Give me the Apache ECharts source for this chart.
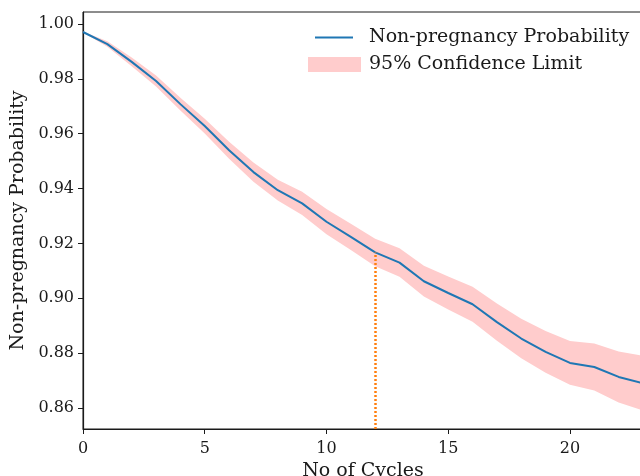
<!DOCTYPE html>
<html>
<head>
<meta charset="utf-8">
<script src="https://cdn.jsdelivr.net/npm/echarts@6/dist/echarts.min.js"></script>
<style>
  html, body { margin: 0; padding: 0; background: #fff; }
  #chart { width: 640px; height: 476px; }
</style>
</head>
<body>
<div id="chart"></div>
<script>
// cycles 0..23
const cycles = ["0", "1", "2", "3", "4", "5", "6", "7", "8", "9", "10", "11",
  "12", "13", "14", "15", "16", "17", "18", "19", "20", "21", "22", "23"];
const probability = [0.9971, 0.9927, 0.9862, 0.9792, 0.9708, 0.9628, 0.9540, 0.9460, 0.9394, 0.9346,
  0.9279, 0.9224, 0.9167, 0.9130, 0.9062, 0.9019, 0.8978, 0.8913, 0.8853, 0.8804,
  0.8764, 0.8749, 0.8713, 0.8690];
const lowerLimit = [0.9969, 0.9917, 0.9846, 0.9772, 0.9685, 0.9601, 0.9509, 0.9425, 0.9356, 0.9304,
  0.9233, 0.9176, 0.9117, 0.9078, 0.9006, 0.8959, 0.8914, 0.8845, 0.8781, 0.8728,
  0.8684, 0.8663, 0.8620, 0.8590];
const upperLimit = [0.9973, 0.9937, 0.9878, 0.9812, 0.9731, 0.9655, 0.9571, 0.9495, 0.9432, 0.9388,
  0.9325, 0.9272, 0.9217, 0.9182, 0.9118, 0.9079, 0.9042, 0.8981, 0.8925, 0.8880,
  0.8844, 0.8835, 0.8806, 0.8790];
const cutoffCycle = "12";
const xTickEvery = 5;
const yTicks = [0.86, 0.88, 0.90, 0.92, 0.94, 0.96, 0.98, 1.00];

const yMin = 0.8523, yMax = 1.0044;
const font = "DejaVu Serif";
const ink = "#1a1a1a";
const bandColor = "#ffcccc";
const lineColor = "#1f77b4";

var myChart = echarts.init(document.getElementById("chart"));

let options = {
  animation: false,
  grid: {
    left: 83, top: 12, right: -3, bottom: 47,
    outerBoundsMode: "none",
    containLabel: false,
    show: true, borderColor: ink, borderWidth: 1, backgroundColor: "transparent"
  },
  legend: [
    {
      left: 315, top: 28, padding: 0,
      itemWidth: 38, itemHeight: 2,
      data: [{ name: "Non-pregnancy Probability", icon: "rect", itemStyle: { color: lineColor, opacity: 1 } }],
      textStyle: { fontFamily: font, fontSize: 19, color: ink, lineHeight: 19, padding: [0, 0, 0, 11] }
    },
    {
      left: 308, top: 55, padding: 0,
      itemWidth: 53, itemHeight: 15,
      data: [{ name: "95% Confidence Limit", icon: "rect", itemStyle: { color: bandColor, opacity: 1, borderWidth: 0 } }],
      textStyle: { fontFamily: font, fontSize: 19, color: ink, lineHeight: 19, padding: [0, 0, 0, 3] }
    }
  ],
  xAxis: {
    type: "category", data: cycles, boundaryGap: false,
    name: "No of Cycles", nameLocation: "middle", nameGap: 28,
    nameTextStyle: { fontFamily: font, fontSize: 19, color: ink },
    axisLine: { lineStyle: { color: ink, width: 1.2 } },
    axisTick: { show: true, length: 5, lineStyle: { color: ink }, interval: xTickEvery - 1 },
    axisLabel: { fontFamily: font, fontSize: 16, color: ink, margin: 12, interval: xTickEvery - 1 },
    splitLine: { show: false }
  },
  yAxis: {
    type: "value", min: yMin, max: yMax,
    name: "Non-pregnancy Probability", nameLocation: "middle", nameGap: 49,
    nameTextStyle: { fontFamily: font, fontSize: 19, color: ink },
    axisLine: { show: true, lineStyle: { color: ink, width: 1.2 } },
    axisTick: { show: true, length: 5, lineStyle: { color: ink }, customValues: yTicks },
    axisLabel: {
      fontFamily: font, fontSize: 16, color: ink, margin: 9, customValues: yTicks,
      formatter: function (v) { return v.toFixed(2); }
    },
    splitLine: { show: false }
  },
  series: [
    {
      name: "lower",
      type: "line",
      stack: "ci",
      symbol: "none",
      silent: true,
      lineStyle: { width: 0 },
      data: lowerLimit,
      z: 1
    },
    {
      name: "95% Confidence Limit",
      type: "line",
      stack: "ci",
      symbol: "none",
      silent: true,
      color: bandColor,
      lineStyle: { width: 0 },
      areaStyle: { color: bandColor, opacity: 1 },
      data: upperLimit.map(function (u, i) { return +(u - lowerLimit[i]).toFixed(4); }),
      z: 1
    },
    {
      name: "Non-pregnancy Probability",
      type: "line",
      symbol: "none",
      color: lineColor,
      lineStyle: { color: lineColor, width: 2 },
      data: probability,
      z: 3,
      markLine: {
        silent: true,
        symbol: "none",
        label: { show: false },
        lineStyle: { color: "#ff7f0e", width: 2.5, type: [2, 2], opacity: 1 },
        data: [[
          { coord: [cutoffCycle, yMin] },
          { coord: [cutoffCycle, probability[cycles.indexOf(cutoffCycle)]] }
        ]]
      }
    }
  ]
};
myChart.setOption(options);
window.addEventListener("resize", function () {
  myChart.resize();
});
</script>
</body>
</html>
